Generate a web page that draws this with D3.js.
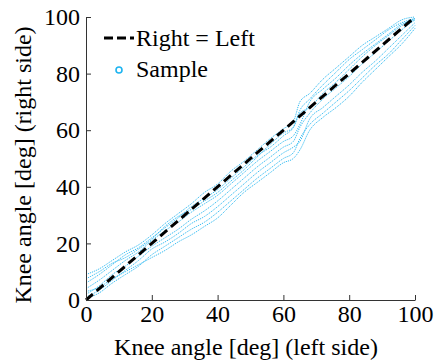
<!DOCTYPE html>
<html>
<head>
<meta charset="utf-8">
<script src="https://cdn.jsdelivr.net/npm/d3@7"></script>
</head>
<body style="margin:0">
<script>
// knee angle, left side (x grid shared by every sample)
const leftAngle = [0, 4, 8, 12, 16, 20, 24, 28, 32, 36, 40, 44, 48, 52, 56, 60, 63, 65, 68, 72, 76, 80, 84, 88, 92, 96, 100];

// knee angle, right side, one array per sample
const sampleA = [9, 11, 14, 17, 19.5, 23, 27, 30.5, 34, 38, 41, 45.5, 49, 53, 57, 60.5, 63, 70, 73, 78, 82, 86, 90, 93, 96, 99, 100];
const sampleB = [6, 9, 12.5, 16, 18.5, 22, 25.5, 29, 33, 36, 39, 43, 47, 51, 54, 58, 61, 67, 71, 76, 80.5, 85, 88.5, 92, 95.5, 98, 99.5];
const sampleC = [4, 7, 10.5, 14, 17, 21, 24.5, 27.5, 31, 34, 37, 41, 45, 49, 52.5, 56, 58, 62, 70, 74.5, 78.5, 83, 87, 90.5, 94, 97.5, 99];
const sampleD = [2, 5, 9, 12, 15.5, 19, 22, 25, 28.5, 31.5, 35, 39, 43, 47, 50.5, 54, 56, 61, 66, 71, 75, 79, 83.5, 87.5, 91.5, 95.5, 99];
const sampleE = [1, 3.5, 7, 10.5, 14, 18, 20.5, 23.5, 27, 29.5, 33, 37, 41, 45, 48.5, 52, 54, 56, 64, 68, 72, 76, 80.5, 84.5, 89, 93.5, 98];
const sampleF = [0.5, 2.5, 6, 9, 12, 16, 19, 22, 25, 27.5, 31, 35, 39, 43, 46.5, 50, 52, 57, 62, 66, 70, 74, 78.5, 83, 87, 92, 97];
const sampleG = [7.5, 10, 13, 15, 18, 21.5, 26, 29.5, 32, 35, 38, 42, 46, 50.5, 55, 59, 61, 66, 68, 73, 77, 81.5, 86, 90, 93.5, 97, 99.5];
const sampleH = [3, 4.5, 7.5, 10, 12.5, 15, 17.5, 20.5, 23, 26, 29, 33.5, 38, 41.5, 45, 48.5, 50, 53, 60, 64.5, 68, 72, 77, 81.5, 86, 90.5, 96];

const samples = [sampleA, sampleB, sampleC, sampleD, sampleE, sampleF, sampleG, sampleH];

const xTicks = [0, 20, 40, 60, 80, 100];
const yTicks = [0, 20, 40, 60, 80, 100];

const width = 438, height = 360;
const sampleColor = "#1eb4f0";
const serif = "'Liberation Serif'";
const fontSize = 24;

const svg = d3.select("body").append("svg")
    .attr("width", width)
    .attr("height", height);

const x = d3.scaleLinear().domain([0, 100]).range([86, 415]);
const y = d3.scaleLinear().domain([0, 100]).range([300, 17]);

// samples: thin dotted light blue traces
const line = d3.line()
    .x(d => x(d[0]))
    .y(d => y(d[1]))
    .curve(d3.curveMonotoneX);

svg.append("g")
    .selectAll("path")
    .data(samples)
    .enter().append("path")
    .attr("d", s => line(leftAngle.map((a, i) => [a, s[i]])))
    .attr("fill", "none")
    .attr("stroke", sampleColor)
    .attr("stroke-opacity", 0.9)
    .attr("stroke-width", 1)
    .attr("stroke-dasharray", "1.2,1");

// right = left reference line
svg.append("line")
    .attr("x1", x(0)).attr("y1", y(0))
    .attr("x2", x(100)).attr("y2", y(100))
    .attr("stroke", "#000")
    .attr("stroke-width", 3)
    .attr("stroke-dasharray", "9,5");

// axes, ticks pointing inward
const xAxis = svg.append("g")
    .attr("transform", "translate(0," + y(0) + ")")
    .call(d3.axisBottom(x).tickValues(xTicks).tickSizeInner(-5).tickSizeOuter(0).tickPadding(5));

const yAxis = svg.append("g")
    .attr("transform", "translate(" + x(0) + ",0)")
    .call(d3.axisLeft(y).tickValues(yTicks).tickSizeInner(-5).tickSizeOuter(0).tickPadding(6));

[xAxis, yAxis].forEach(a => {
    a.attr("font-family", null).attr("font-size", null);
    a.select(".domain").attr("stroke", "#333");
    a.selectAll(".tick line").attr("stroke", "#333");
    a.selectAll(".tick text").attr("fill", "#000");
});

// axis labels
svg.append("text")
    .attr("x", 246)
    .attr("y", 355)
    .attr("text-anchor", "middle")
    .text("Knee angle [deg] (left side)");

svg.append("text")
    .attr("transform", "translate(31,165) rotate(-90)")
    .attr("text-anchor", "middle")
    .text("Knee angle [deg] (right side)");

// legend (no box)
const legend = svg.append("g");
legend.append("line")
    .attr("x1", 104).attr("y1", 38)
    .attr("x2", 134).attr("y2", 38)
    .attr("stroke", "#000")
    .attr("stroke-width", 3)
    .attr("stroke-dasharray", "9,4");
legend.append("text")
    .attr("x", 136).attr("y", 46)
    .text("Right = Left");
legend.append("circle")
    .attr("cx", 119).attr("cy", 70)
    .attr("r", 3)
    .attr("fill", "none")
    .attr("stroke", sampleColor)
    .attr("stroke-width", 1.6);
legend.append("text")
    .attr("x", 136).attr("y", 77)
    .text("Sample");

// same font on every text element
svg.selectAll("text")
    .attr("font-size", fontSize)
    .style("font-family", serif);
</script>
</body>
</html>
